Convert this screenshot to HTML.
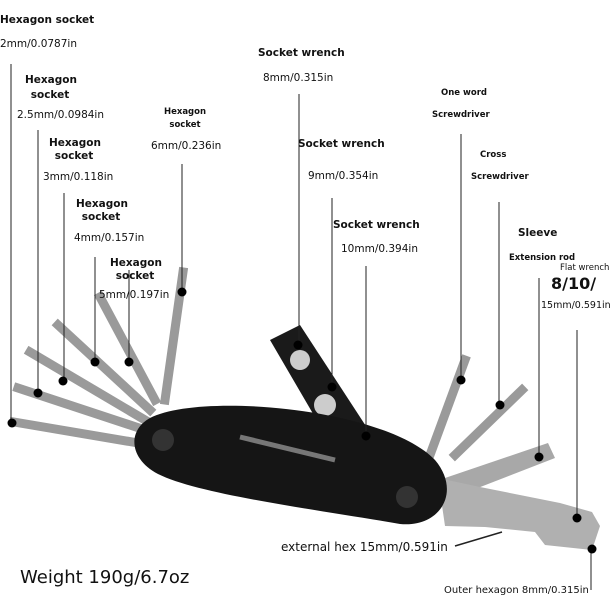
<!DOCTYPE html><html><head><style>
body{margin:0;width:612px;height:605px;background:#fff;position:relative;overflow:hidden;font-family:"DejaVu Sans","Liberation Sans",sans-serif;color:#111}
.t{position:absolute;white-space:nowrap;font-size:10.5px;line-height:13px}
.b{font-weight:bold}
.c{text-align:center}
svg{position:absolute;left:0;top:0}
</style></head><body>
<svg width="612" height="605">
<g stroke="#9a9a9a" stroke-width="9" stroke-linecap="square">
<line x1="14" y1="422" x2="150" y2="445"/>
<line x1="18" y1="388" x2="145" y2="430"/>
<line x1="30" y1="352" x2="145" y2="420"/>
<line x1="58" y1="325" x2="150" y2="410"/>
<line x1="100" y1="297" x2="155" y2="400"/>
<line x1="183" y1="272" x2="165" y2="400"/>
<line x1="465" y1="360" x2="430" y2="455"/>
<line x1="522" y1="390" x2="455" y2="455"/>
</g>
<polygon points="445,478 548,443 555,458 452,498" fill="#a8a8a8"/>
<polygon points="438,478 480,487 560,503 592,512 600,526 592,550 545,545 535,532 485,527 445,526" fill="#b0b0b0"/>
<polygon points="270,340 300,325 375,440 340,460" fill="#1a1a1a"/>
<circle cx="300" cy="360" r="10" fill="#ccc"/><circle cx="325" cy="405" r="11" fill="#ccc"/>
<path d="M150,418 C200,392 385,408 435,460 C462,492 440,528 400,524 C320,510 200,495 158,474 C128,458 128,430 150,418Z" fill="#151515"/>
<circle cx="163" cy="440" r="11" fill="#333"/><circle cx="407" cy="497" r="11" fill="#333"/>
<line x1="240" y1="437" x2="335" y2="460" stroke="#777" stroke-width="5"/>
<g stroke="#222" stroke-width="1">
<line x1="11" y1="64" x2="11" y2="423"/>
<line x1="38" y1="130" x2="38" y2="393"/>
<line x1="64" y1="193" x2="64" y2="381"/>
<line x1="95" y1="257" x2="95" y2="362"/>
<line x1="129" y1="270" x2="129" y2="362"/>
<line x1="182" y1="164" x2="182" y2="292"/>
<line x1="299" y1="94" x2="299" y2="345"/>
<line x1="332" y1="198" x2="332" y2="387"/>
<line x1="366" y1="266" x2="366" y2="436"/>
<line x1="461" y1="134" x2="461" y2="380"/>
<line x1="499" y1="202" x2="499" y2="403"/>
<line x1="539" y1="278" x2="539" y2="457"/>
<line x1="577" y1="330" x2="577" y2="518"/>
<line x1="591" y1="549" x2="591" y2="590"/>
<line x1="455" y1="546" x2="502" y2="532" stroke-width="1.5"/>
</g>
<g fill="#000">
<circle cx="12" cy="423" r="4.5"/><circle cx="38" cy="393" r="4.5"/><circle cx="63" cy="381" r="4.5"/>
<circle cx="95" cy="362" r="4.5"/><circle cx="129" cy="362" r="4.5"/><circle cx="182" cy="292" r="4.5"/>
<circle cx="298" cy="345" r="4.5"/><circle cx="332" cy="387" r="4.5"/><circle cx="366" cy="436" r="4.5"/>
<circle cx="461" cy="380" r="4.5"/><circle cx="500" cy="405" r="4.5"/><circle cx="539" cy="457" r="4.5"/>
<circle cx="577" cy="518" r="4.5"/><circle cx="592" cy="549" r="4.5"/>
</g>
</svg>
<div class="t b" style="left:0;top:14px">Hexagon socket</div>
<div class="t" style="left:0;top:38px">2mm/0.0787in</div>
<div class="t b c" style="left:25px;top:74px;width:50px">Hexagon<br><span style="line-height:17px">socket</span></div>
<div class="t" style="left:17px;top:109px">2.5mm/0.0984in</div>
<div class="t b c" style="left:49px;top:137px;width:50px">Hexagon<br>socket</div>
<div class="t" style="left:43px;top:171px">3mm/0.118in</div>
<div class="t b c" style="left:76px;top:198px;width:50px">Hexagon<br>socket</div>
<div class="t" style="left:74px;top:232px">4mm/0.157in</div>
<div class="t b c" style="left:110px;top:257px;width:50px">Hexagon<br>socket</div>
<div class="t" style="left:99px;top:289px">5mm/0.197in</div>
<div class="t b c" style="left:160px;top:106px;width:50px;font-size:8.5px;line-height:13px">Hexagon<br>socket</div>
<div class="t" style="left:151px;top:140px">6mm/0.236in</div>
<div class="t b" style="left:258px;top:47px">Socket wrench</div>
<div class="t" style="left:263px;top:72px">8mm/0.315in</div>
<div class="t b" style="left:298px;top:138px">Socket wrench</div>
<div class="t" style="left:308px;top:170px">9mm/0.354in</div>
<div class="t b" style="left:333px;top:219px">Socket wrench</div>
<div class="t" style="left:341px;top:243px">10mm/0.394in</div>
<div class="t b" style="left:441px;top:87px;font-size:8.5px">One word</div>
<div class="t b" style="left:432px;top:109px;font-size:8.5px">Screwdriver</div>
<div class="t b" style="left:480px;top:149px;font-size:8.5px">Cross</div>
<div class="t b" style="left:471px;top:171px;font-size:8.5px">Screwdriver</div>
<div class="t b" style="left:518px;top:227px">Sleeve</div>
<div class="t b" style="left:509px;top:252px;font-size:8.5px">Extension rod</div>
<div class="t" style="left:560px;top:262px;font-size:8.5px">Flat wrench</div>
<div class="t b" style="left:551px;top:274px;font-size:16px;line-height:20px">8/10/</div>
<div class="t" style="left:541px;top:299px;font-size:9.5px">15mm/0.591in</div>
<div class="t" style="left:281px;top:541px;font-size:12px">external hex 15mm/0.591in</div>
<div class="t" style="left:20px;top:567px;font-size:18px;line-height:22px">Weight 190g/6.7oz</div>
<div class="t" style="left:444px;top:584px;font-size:10px">Outer hexagon 8mm/0.315in</div>
</body></html>
